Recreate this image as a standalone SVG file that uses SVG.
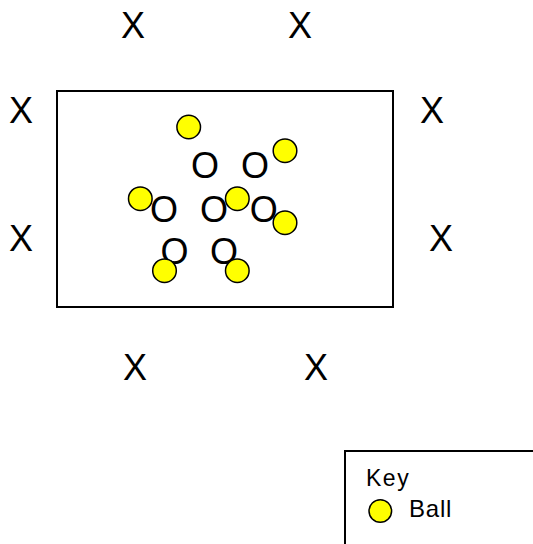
<svg xmlns="http://www.w3.org/2000/svg" width="533" height="544" viewBox="0 0 533 544">
<style>
.x{font-family:"Liberation Sans",Arial,sans-serif;font-size:36px;text-anchor:middle;fill:#000}
.o{font-family:"Liberation Sans",Arial,sans-serif;font-size:36px;text-anchor:middle;fill:#000}
.ball{fill:#ffff00;stroke:#000;stroke-width:1.5}
.lbl{font-family:"Liberation Sans",Arial,sans-serif;fill:#000}
</style>
<rect width="533" height="544" fill="#fff"/>
<g id="field"><rect x="57" y="91" width="336" height="216" fill="none" stroke="#000" stroke-width="2"/></g>
<g id="players-x">
<text class="x" x="133" y="38">X</text>
<text class="x" x="300" y="38">X</text>
<text class="x" x="21" y="123">X</text>
<text class="x" x="432" y="123">X</text>
<text class="x" x="21" y="251">X</text>
<text class="x" x="441" y="251">X</text>
<text class="x" x="135" y="380">X</text>
<text class="x" x="316" y="380">X</text>
</g>
<g id="players-o">
<text class="o" x="205" y="178">O</text>
<text class="o" x="255" y="178">O</text>
<text class="o" x="164" y="222">O</text>
<text class="o" x="214" y="222">O</text>
<text class="o" x="263.7" y="222">O</text>
<text class="o" x="174.5" y="264">O</text>
<text class="o" x="224" y="264">O</text>
</g>
<g id="balls">
<circle class="ball" cx="188.7" cy="127" r="11.8"/>
<circle class="ball" cx="285" cy="150.7" r="11.8"/>
<circle class="ball" cx="140.3" cy="198.7" r="11.8"/>
<circle class="ball" cx="237.3" cy="198.7" r="11.8"/>
<circle class="ball" cx="285" cy="222.7" r="11.8"/>
<circle class="ball" cx="164.5" cy="270.7" r="11.8"/>
<circle class="ball" cx="237.3" cy="270.7" r="11.8"/>
</g>
<g id="key">
<path d="M345 544 V451 H533" fill="none" stroke="#000" stroke-width="2"/>
<text class="lbl" x="366" y="486" font-size="23" letter-spacing="1.5">Key</text>
<circle class="ball" cx="380.3" cy="511" r="11.3"/>
<text class="lbl" x="409" y="516.5" font-size="24" letter-spacing="0.8">Ball</text>
</g>
</svg>
